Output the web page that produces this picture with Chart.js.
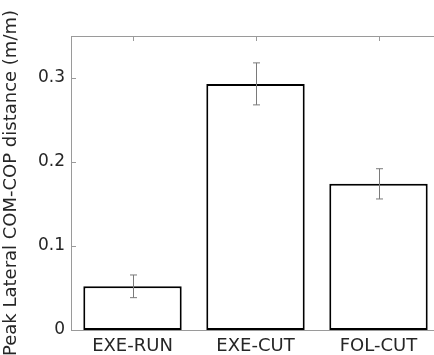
<!DOCTYPE html>
<html>
<head>
<meta charset="utf-8">
<script src="https://cdn.jsdelivr.net/npm/chart.js@4"></script>
<style>
  html, body { margin: 0; padding: 0; background: #fff; overflow: hidden; }
  #wrap { width: 434px; height: 355px; overflow: hidden; }
</style>
</head>
<body>
<div id="wrap"><canvas id="barChart" width="440" height="355"></canvas></div>
<script>
// ==== Data ====
const conditions = ["EXE-RUN", "EXE-CUT", "FOL-CUT"];
const peakDistance = [0.052, 0.293, 0.174];
const peakError = [0.0135, 0.025, 0.018];
const yTicks = [0, 0.1, 0.2, 0.3];

const axisGray = "#9a9a9a";
const textColor = "#262626";

// ==== Error bars + inward ticks + top box line ====
const errorBars = {
  id: "errorBars",
  afterDatasetsDraw(chart) {
    const { ctx } = chart;
    const x = chart.scales.x;
    const y = chart.scales.y;
    ctx.save();
    ctx.strokeStyle = "#7a7a7a";
    ctx.lineWidth = 1;
    peakDistance.forEach((v, i) => {
      const cx = Math.round(x.getPixelForValue(i)) + 0.5;
      const hi = y.getPixelForValue(v + peakError[i]);
      const lo = y.getPixelForValue(v - peakError[i]);
      ctx.beginPath();
      ctx.moveTo(cx, hi); ctx.lineTo(cx, lo);
      ctx.moveTo(cx - 3.5, hi); ctx.lineTo(cx + 3.5, hi);
      ctx.moveTo(cx - 3.5, lo); ctx.lineTo(cx + 3.5, lo);
      ctx.stroke();
    });
    ctx.restore();
  },
  afterDraw(chart) {
    const { ctx, chartArea } = chart;
    const x = chart.scales.x;
    const y = chart.scales.y;
    ctx.save();
    ctx.strokeStyle = axisGray;
    ctx.lineWidth = 1;
    ctx.beginPath();
    // top border of the box
    ctx.moveTo(chartArea.left, chartArea.top + 0.5);
    ctx.lineTo(chartArea.right, chartArea.top + 0.5);
    // y ticks pointing inward
    yTicks.forEach(t => {
      const py = Math.round(y.getPixelForValue(t)) + 0.5;
      ctx.moveTo(chartArea.left, py);
      ctx.lineTo(chartArea.left + 5, py);
    });
    // category ticks on the top edge
    conditions.forEach((c, i) => {
      const px = Math.round(x.getPixelForValue(i)) + 0.5;
      ctx.moveTo(px, chartArea.top);
      ctx.lineTo(px, chartArea.top + 5);
    });
    ctx.stroke();
    ctx.restore();
  }
};

// ==== Chart ====
const ctx = document.getElementById("barChart").getContext("2d");
new Chart(ctx, {
  type: "bar",
  data: {
    labels: conditions,
    datasets: [{
      data: peakDistance,
      backgroundColor: "#ffffff",
      borderColor: "#000000",
      borderWidth: 2,
      borderSkipped: false,
      categoryPercentage: 1,
      barPercentage: 0.8
    }]
  },
  options: {
    responsive: false,
    animation: false,
    layout: { padding: { top: 36, right: 0, left: 0, bottom: 0 } },
    plugins: {
      legend: { display: false },
      tooltip: { enabled: false }
    },
    scales: {
      x: {
        grid: { display: false, drawTicks: false },
        border: { display: true, color: axisGray, width: 1 },
        ticks: {
          color: textColor,
          padding: 6,
          font: { family: "DejaVu Sans", size: 18 }
        },
        afterFit(scale) { scale.height = 25; }
      },
      y: {
        min: 0,
        max: 0.35,
        afterBuildTicks(scale) { scale.ticks = yTicks.map(v => ({ value: v })); },
        grid: { display: false, drawTicks: false },
        border: { display: true, color: axisGray, width: 1 },
        ticks: {
          color: textColor,
          padding: 6,
          font: { family: "DejaVu Sans", size: 17 },
          callback: v => (v === 0 ? "0" : v.toFixed(1))
        },
        title: {
          display: true,
          text: "Peak Lateral COM-COP distance (m/m)",
          color: textColor,
          font: { family: "DejaVu Sans", size: 18 },
          padding: { top: 1, bottom: 0 }
        },
        afterFit(scale) { scale.width = 71; }
      }
    }
  },
  plugins: [errorBars]
});
</script>
</body>
</html>
